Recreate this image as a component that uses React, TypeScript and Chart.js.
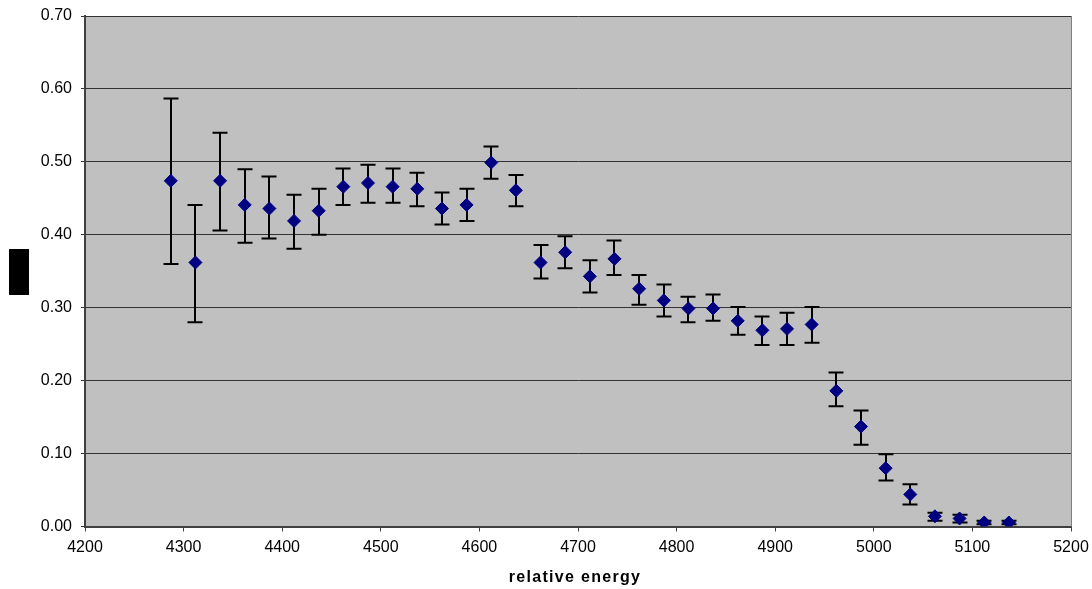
import React, { useEffect, useRef } from "react";
import { Chart, registerables } from "chart.js";

Chart.register(...registerables);

const energies = [
  4287, 4312, 4337, 4362, 4387, 4412, 4437, 4462, 4487, 4512, 4537, 4562,
  4587, 4612, 4637, 4662, 4687, 4712, 4737, 4762, 4787, 4812, 4837, 4862,
  4887, 4912, 4937, 4962, 4987, 5012, 5037, 5062, 5087, 5112, 5137,
];
const values = [
  0.474, 0.362, 0.474, 0.441, 0.436, 0.419, 0.433, 0.466, 0.471, 0.466,
  0.463, 0.436, 0.441, 0.499, 0.461, 0.362, 0.376, 0.343, 0.367, 0.326,
  0.31, 0.299, 0.299, 0.282, 0.269, 0.271, 0.277, 0.186, 0.137, 0.08,
  0.044, 0.014, 0.011, 0.0055, 0.0055,
];
const upperValues = [
  0.587, 0.441, 0.54, 0.49, 0.48, 0.455, 0.463, 0.491, 0.496, 0.491,
  0.485, 0.458, 0.463, 0.521, 0.482, 0.386, 0.398, 0.365, 0.392, 0.345,
  0.332, 0.315, 0.318, 0.301, 0.288, 0.293, 0.301, 0.211, 0.159, 0.099,
  0.058, 0.019, 0.016, 0.008, 0.008,
];
const lowerValues = [
  0.36, 0.28, 0.406, 0.389, 0.395, 0.381, 0.4, 0.441, 0.444, 0.444,
  0.439, 0.414, 0.419, 0.477, 0.439, 0.34, 0.354, 0.321, 0.345, 0.304,
  0.288, 0.28, 0.282, 0.263, 0.249, 0.249, 0.252, 0.165, 0.112, 0.063,
  0.03, 0.008, 0.0055, 0.003, 0.003,
];
const xTitle = "relative energy";

const FONT = "'Liberation Sans', Arial, sans-serif";

const plotAreaPlugin = {
  id: "plotArea",
  beforeDraw(chart: any) {
    const { ctx, chartArea } = chart;
    ctx.save();
    ctx.fillStyle = "#C0C0C0";
    ctx.fillRect(
      chartArea.left,
      chartArea.top,
      chartArea.right - chartArea.left,
      chartArea.bottom - chartArea.top
    );
    ctx.restore();
  },
  afterDraw(chart: any) {
    const { ctx, chartArea } = chart;
    ctx.save();
    ctx.strokeStyle = "#808080";
    ctx.lineWidth = 1;
    ctx.beginPath();
    ctx.moveTo(chartArea.right + 0.5, chartArea.top);
    ctx.lineTo(chartArea.right + 0.5, chartArea.bottom);
    ctx.stroke();
    ctx.restore();
  },
};

const errorBarPlugin = {
  id: "errorBars",
  beforeDatasetsDraw(chart: any) {
    const { ctx } = chart;
    const xs = chart.scales.x;
    const ys = chart.scales.y;
    ctx.save();
    ctx.strokeStyle = "#000000";
    ctx.lineWidth = 2;
    const cap = 7.5;
    for (let i = 0; i < energies.length; i++) {
      const px = Math.round(xs.getPixelForValue(energies[i]));
      const pt = ys.getPixelForValue(upperValues[i]);
      const pb = ys.getPixelForValue(lowerValues[i]);
      ctx.beginPath();
      ctx.moveTo(px, pt);
      ctx.lineTo(px, pb);
      ctx.moveTo(px - cap, pt);
      ctx.lineTo(px + cap, pt);
      ctx.moveTo(px - cap, pb);
      ctx.lineTo(px + cap, pb);
      ctx.stroke();
    }
    ctx.restore();
  },
};

export default function App() {
  const canvasRef = useRef<HTMLCanvasElement | null>(null);

  useEffect(() => {
    document.body.style.margin = "0";
    if (!canvasRef.current) return;
    const chart = new Chart(canvasRef.current, {
      type: "scatter",
      data: {
        datasets: [
          {
            data: energies.map((e, i) => ({ x: e, y: values[i] })),
            pointStyle: "rectRot",
            pointRadius: 6.5,
            backgroundColor: "#000080",
            borderColor: "#000080",
            borderWidth: 1,
            showLine: false,
          },
        ],
      },
      options: {
        animation: false,
        responsive: false,
        maintainAspectRatio: false,
        layout: { padding: { left: 0, top: 16, right: 21, bottom: 0 } },
        plugins: {
          legend: { display: false },
          tooltip: { enabled: false },
          title: { display: false },
        },
        scales: {
          x: {
            type: "linear",
            min: 4200,
            max: 5200,
            ticks: {
              stepSize: 100,
              color: "#000",
              font: { family: FONT, size: 16 },
              padding: 6,
              maxRotation: 0,
              autoSkip: false,
              callback: (v: any) => String(v),
            },
            grid: {
              drawOnChartArea: false,
              drawTicks: true,
              tickLength: 5,
              color: "#404040",
            },
            border: { color: "#404040", width: 2 },
            afterFit(scale: any) {
              scale.height = 62.5;
              scale.paddingLeft = 0;
              scale.paddingRight = 0;
            },
          },
          y: {
            type: "linear",
            min: 0,
            max: 0.7,
            ticks: {
              stepSize: 0.1,
              color: "#000",
              font: { family: FONT, size: 16 },
              padding: 9,
              callback: (v: any) => Number(v).toFixed(2),
            },
            grid: {
              color: "#333333",
              lineWidth: 1,
              tickLength: 4,
            },
            border: { color: "#404040", width: 2 },
            afterFit(scale: any) {
              scale.width = 85;
              scale.paddingTop = 0;
              scale.paddingBottom = 0;
            },
          },
        },
      },
      plugins: [plotAreaPlugin, errorBarPlugin],
    });
    return () => chart.destroy();
  }, []);

  return (
    <div style={{ position: "relative", width: 1092, height: 589, background: "#fff" }}>
      <canvas ref={canvasRef} width={1092} height={589} style={{ display: "block" }} />
      <div
        style={{
          position: "absolute",
          left: 9,
          top: 249,
          width: 20,
          height: 46,
          background: "#000",
        }}
      />
      <div
        style={{
          position: "absolute",
          left: 0,
          top: 568,
          width: 1150,
          textAlign: "center",
          fontFamily: FONT,
          fontWeight: "bold",
          fontSize: 16,
          letterSpacing: "1.3px",
          color: "#000",
        }}
      >
        {xTitle}
      </div>
    </div>
  );
}
